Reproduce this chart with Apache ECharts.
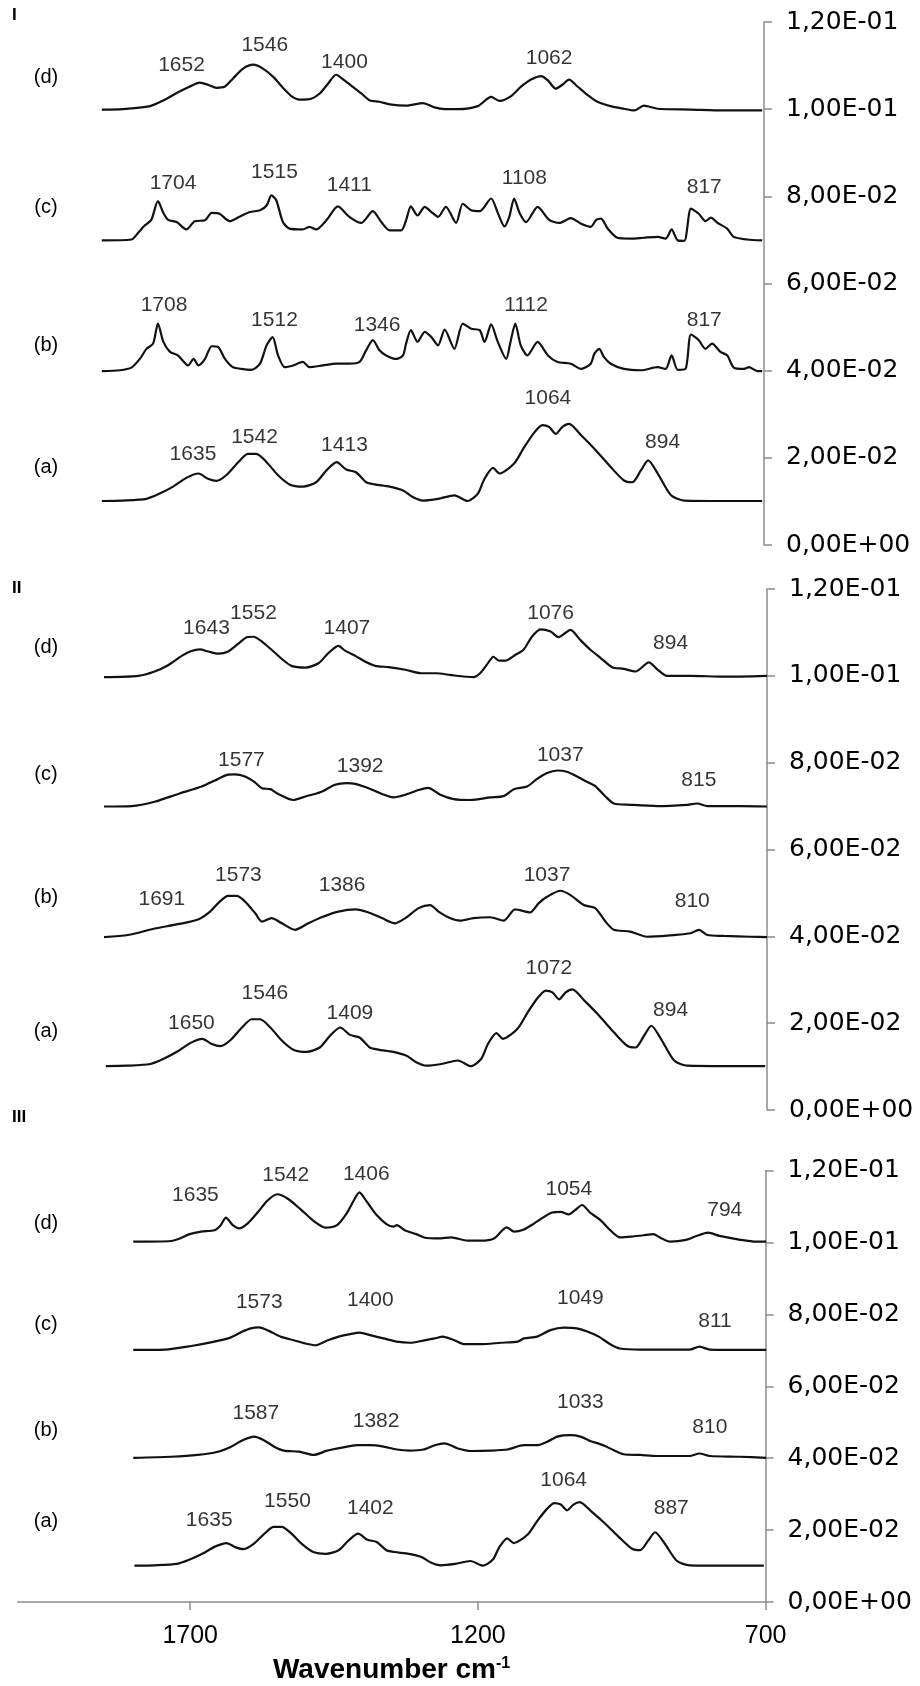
<!DOCTYPE html>
<html>
<head>
<meta charset="utf-8">
<script src="https://cdn.jsdelivr.net/npm/echarts@6/dist/echarts.min.js"></script>
<style>
html,body{margin:0;padding:0;background:#fff;}
#chart{width:920px;height:1686px;}
</style>
</head>
<body>
<div id="chart"></div>
<script>
// ---- data: [wavenumber, absorbance] ----
const specA = [[1797,0.0101],[1762,0.0102],[1723,0.0106],[1701,0.0118],[1679,0.0134],[1657,0.0154],[1637,0.0164],[1621,0.0152],[1607,0.0147],[1591,0.0160],[1571,0.0190],[1555,0.0209],[1541,0.0209],[1524,0.0190],[1505,0.0160],[1486,0.0139],[1464,0.0134],[1442,0.0144],[1425,0.0171],[1408,0.0190],[1392,0.0173],[1376,0.0167],[1359,0.0144],[1345,0.0139],[1320,0.0134],[1298,0.0125],[1282,0.0110],[1265,0.0102],[1240,0.0106],[1213,0.0114],[1191,0.0101],[1174,0.0118],[1163,0.0152],[1149,0.0177],[1138,0.0164],[1114,0.0187],[1097,0.0225],[1080,0.0259],[1067,0.0275],[1056,0.0271],[1045,0.0255],[1034,0.0271],[1023,0.0278],[1003,0.0252],[981,0.0221],[954,0.0179],[932,0.0148],[918,0.0144],[904,0.0171],[892,0.0194],[876,0.0164],[854,0.0114],[832,0.0102],[766,0.0101],[703,0.0101]];

const specIb = [[1797,0.0399],[1767,0.0401],[1748,0.0407],[1734,0.0427],[1723,0.0450],[1712,0.0462],[1704,0.0508],[1695,0.0466],[1684,0.0443],[1671,0.0435],[1654,0.0412],[1645,0.0427],[1637,0.0412],[1626,0.0427],[1615,0.0456],[1604,0.0454],[1593,0.0427],[1580,0.0408],[1566,0.0404],[1549,0.0402],[1535,0.0416],[1524,0.0458],[1514,0.0477],[1505,0.0435],[1494,0.0408],[1480,0.0412],[1464,0.0420],[1453,0.0408],[1431,0.0412],[1409,0.0416],[1387,0.0416],[1370,0.0420],[1359,0.0447],[1348,0.0470],[1337,0.0447],[1326,0.0435],[1309,0.0427],[1298,0.0435],[1293,0.0462],[1285,0.0493],[1274,0.0466],[1262,0.0489],[1251,0.0477],[1240,0.0458],[1229,0.0494],[1213,0.0450],[1199,0.0508],[1185,0.0496],[1171,0.0493],[1163,0.0466],[1152,0.0506],[1141,0.0466],[1127,0.0427],[1120,0.0466],[1112,0.0508],[1103,0.0458],[1092,0.0435],[1075,0.0466],[1058,0.0435],[1042,0.0420],[1020,0.0416],[1003,0.0404],[987,0.0416],[981,0.0439],[973,0.0450],[965,0.0431],[954,0.0416],[932,0.0404],[904,0.0401],[876,0.0408],[863,0.0404],[853,0.0435],[843,0.0402],[830,0.0404],[821,0.0483],[808,0.0470],[797,0.0450],[786,0.0462],[772,0.0443],[761,0.0435],[750,0.0407],[733,0.0404],[725,0.0408],[711,0.0399],[703,0.0399]];

const specIc = [[1797,0.0699],[1748,0.0701],[1737,0.0716],[1726,0.0733],[1715,0.0746],[1704,0.0789],[1695,0.0762],[1687,0.0746],[1673,0.0741],[1657,0.0724],[1643,0.0743],[1626,0.0745],[1615,0.0762],[1602,0.0760],[1585,0.0743],[1569,0.0753],[1552,0.0764],[1535,0.0768],[1524,0.0779],[1516,0.0802],[1508,0.0791],[1497,0.0741],[1486,0.0726],[1464,0.0724],[1453,0.0730],[1442,0.0724],[1425,0.0745],[1406,0.0777],[1387,0.0753],[1367,0.0739],[1348,0.0766],[1334,0.0741],[1320,0.0722],[1301,0.0722],[1293,0.0745],[1285,0.0777],[1274,0.0756],[1262,0.0776],[1251,0.0764],[1240,0.0753],[1227,0.0776],[1210,0.0739],[1199,0.0783],[1185,0.0768],[1171,0.0766],[1152,0.0795],[1141,0.0762],[1130,0.0731],[1122,0.0753],[1114,0.0795],[1105,0.0762],[1094,0.0741],[1075,0.0776],[1056,0.0746],[1039,0.0739],[1020,0.0750],[1003,0.0737],[987,0.0730],[978,0.0746],[970,0.0749],[959,0.0726],[943,0.0705],[921,0.0703],[899,0.0705],[876,0.0707],[863,0.0703],[853,0.0724],[843,0.0699],[832,0.0698],[821,0.0772],[808,0.0760],[797,0.0743],[788,0.0751],[777,0.0739],[761,0.0726],[750,0.0707],[728,0.0701],[703,0.0699]];

const specId = [[1797,0.0999],[1762,0.1000],[1717,0.1007],[1695,0.1020],[1673,0.1037],[1651,0.1052],[1635,0.1061],[1621,0.1056],[1607,0.1049],[1593,0.1052],[1580,0.1070],[1563,0.1093],[1546,0.1102],[1530,0.1093],[1513,0.1074],[1497,0.1049],[1483,0.1030],[1469,0.1022],[1453,0.1023],[1436,0.1036],[1422,0.1059],[1409,0.1079],[1395,0.1066],[1381,0.1051],[1367,0.1036],[1353,0.1020],[1337,0.1017],[1320,0.1011],[1293,0.1008],[1265,0.1014],[1246,0.1004],[1229,0.1000],[1207,0.1000],[1174,0.1007],[1152,0.1028],[1138,0.1019],[1119,0.1030],[1103,0.1051],[1086,0.1068],[1069,0.1076],[1058,0.1066],[1045,0.1047],[1034,0.1056],[1023,0.1068],[1009,0.1052],[992,0.1032],[976,0.1017],[954,0.1007],[932,0.1001],[915,0.0997],[899,0.1008],[876,0.1001],[821,0.0999],[766,0.0997],[703,0.0997]];

const specIIb = [[1800,0.0398],[1760,0.0403],[1716,0.0418],[1677,0.0428],[1644,0.0439],[1624,0.0457],[1608,0.0480],[1594,0.0493],[1580,0.0493],[1566,0.0480],[1549,0.0453],[1538,0.0434],[1522,0.0442],[1505,0.0430],[1483,0.0415],[1461,0.0430],[1439,0.0444],[1411,0.0457],[1383,0.0462],[1361,0.0455],[1339,0.0442],[1317,0.0430],[1300,0.0442],[1278,0.0465],[1259,0.0472],[1245,0.0457],[1226,0.0442],[1209,0.0436],[1187,0.0442],[1159,0.0444],[1137,0.0436],[1118,0.0462],[1093,0.0455],[1079,0.0476],[1065,0.0491],[1043,0.0505],[1026,0.0495],[1004,0.0472],[985,0.0465],[968,0.0434],[954,0.0415],[927,0.0411],[899,0.0399],[855,0.0403],[827,0.0407],[813,0.0415],[799,0.0403],[772,0.0401],[727,0.0399],[700,0.0398]];

const specIIc = [[1800,0.0699],[1754,0.0700],[1716,0.0710],[1677,0.0728],[1638,0.0745],[1616,0.0759],[1596,0.0772],[1583,0.0773],[1566,0.0768],[1549,0.0754],[1538,0.0741],[1524,0.0739],[1511,0.0728],[1486,0.0714],[1466,0.0722],[1439,0.0733],[1417,0.0749],[1397,0.0753],[1383,0.0751],[1361,0.0741],[1339,0.0728],[1320,0.0720],[1300,0.0726],[1278,0.0737],[1262,0.0742],[1242,0.0726],[1220,0.0716],[1192,0.0714],[1159,0.0720],[1137,0.0723],[1120,0.0739],[1098,0.0745],[1082,0.0762],[1065,0.0776],[1048,0.0782],[1032,0.0779],[1015,0.0768],[999,0.0756],[985,0.0746],[968,0.0722],[954,0.0706],[927,0.0703],[882,0.0700],[832,0.0703],[816,0.0706],[799,0.0700],[744,0.0700],[700,0.0699]];

const specIId = [[1800,0.0997],[1743,0.1000],[1716,0.1010],[1693,0.1025],[1671,0.1046],[1655,0.1057],[1641,0.1061],[1627,0.1056],[1610,0.1051],[1594,0.1056],[1577,0.1074],[1563,0.1089],[1552,0.1090],[1538,0.1079],[1522,0.1060],[1505,0.1039],[1489,0.1023],[1466,0.1019],[1444,0.1029],[1428,0.1052],[1411,0.1069],[1400,0.1058],[1383,0.1046],[1367,0.1033],[1350,0.1023],[1328,0.1020],[1300,0.1014],[1273,0.1006],[1248,0.1006],[1226,0.1002],[1187,0.0997],[1176,0.1006],[1162,0.1031],[1154,0.1044],[1145,0.1035],[1134,0.1035],[1118,0.1048],[1104,0.1060],[1090,0.1090],[1076,0.1107],[1059,0.1102],[1046,0.1089],[1026,0.1106],[1010,0.1083],[993,0.1060],[976,0.1041],[957,0.1020],[938,0.1016],[918,0.1010],[896,0.1031],[882,0.1015],[866,0.1000],[827,0.1000],[772,0.0998],[700,0.1000]];

const specIIIb = [[1799,0.0401],[1733,0.0404],[1687,0.0409],[1652,0.0418],[1629,0.0432],[1609,0.0450],[1589,0.0460],[1572,0.0450],[1554,0.0432],[1537,0.0421],[1511,0.0418],[1485,0.0409],[1462,0.0421],[1434,0.0430],[1410,0.0436],[1387,0.0436],[1364,0.0432],[1341,0.0424],[1318,0.0421],[1295,0.0424],[1275,0.0436],[1258,0.0441],[1235,0.0427],[1212,0.0420],[1177,0.0421],[1149,0.0424],[1120,0.0436],[1097,0.0436],[1079,0.0446],[1062,0.0460],[1039,0.0464],[1022,0.0460],[1005,0.0448],[982,0.0436],[964,0.0422],[947,0.0411],[918,0.0409],[889,0.0406],[855,0.0406],[832,0.0406],[815,0.0413],[797,0.0406],[746,0.0404],[699,0.0401]];

const specIIIc = [[1799,0.0701],[1744,0.0702],[1698,0.0712],[1658,0.0724],[1629,0.0736],[1609,0.0752],[1595,0.0761],[1580,0.0764],[1563,0.0754],[1543,0.0738],[1520,0.0728],[1500,0.0719],[1482,0.0714],[1462,0.0727],[1442,0.0738],[1422,0.0745],[1405,0.0749],[1387,0.0742],[1364,0.0733],[1341,0.0724],[1318,0.0721],[1295,0.0727],[1275,0.0733],[1261,0.0738],[1241,0.0728],[1223,0.0717],[1195,0.0717],[1160,0.0721],[1131,0.0724],[1120,0.0733],[1097,0.0738],[1074,0.0756],[1051,0.0763],[1028,0.0761],[1010,0.0752],[990,0.0738],[970,0.0717],[953,0.0705],[918,0.0702],[878,0.0702],[832,0.0702],[815,0.0710],[797,0.0702],[746,0.0701],[699,0.0701]];

const specIIId = [[1799,0.1002],[1733,0.1004],[1718,0.1011],[1701,0.1023],[1681,0.1030],[1658,0.1034],[1647,0.1048],[1638,0.1069],[1626,0.1048],[1615,0.1039],[1600,0.1053],[1583,0.1083],[1566,0.1116],[1549,0.1134],[1531,0.1122],[1508,0.1092],[1485,0.1059],[1465,0.1041],[1445,0.1048],[1428,0.1081],[1416,0.1116],[1406,0.1139],[1393,0.1113],[1376,0.1076],[1359,0.1051],[1347,0.1044],[1341,0.1048],[1327,0.1034],[1307,0.1023],[1292,0.1013],[1269,0.1011],[1246,0.1014],[1218,0.1005],[1195,0.1005],[1172,0.1011],[1150,0.1042],[1137,0.1030],[1120,0.1036],[1102,0.1053],[1085,0.1071],[1071,0.1083],[1056,0.1085],[1042,0.1078],[1031,0.1090],[1019,0.1104],[1005,0.1083],[987,0.1062],[970,0.1034],[953,0.1014],[933,0.1016],[912,0.1020],[895,0.1023],[884,0.1014],[866,0.1002],[838,0.1007],[820,0.1018],[800,0.1027],[780,0.1018],[746,0.1008],[717,0.1002],[699,0.1002]];

// peak annotations: [wavenumber, absorbance, text]
const peaksI = [[1665,0.1101,'1652'],[1527,0.1147,'1546'],[1395,0.1108,'1400'],[1056,0.1116,'1062'],
  [1679,0.0829,'1704'],[1511,0.0856,'1515'],[1387,0.0825,'1411'],[1097,0.0841,'1108'],[799,0.0821,'817'],
  [1694,0.0550,'1708'],[1511,0.0515,'1512'],[1341,0.0504,'1346'],[1094,0.0550,'1112'],[799,0.0515,'817'],
  [1646,0.0209,'1635'],[1544,0.0248,'1542'],[1395,0.0229,'1413'],[1058,0.0336,'1064'],[868,0.0236,'894']];
const peaksII = [[1630,0.1110,'1643'],[1552,0.1144,'1552'],[1397,0.1110,'1407'],[1059,0.1144,'1076'],[860,0.1075,'894'],
  [1572,0.0806,'1577'],[1375,0.0793,'1392'],[1043,0.0818,'1037'],[813,0.0760,'815'],
  [1704,0.0485,'1691'],[1577,0.0541,'1573'],[1405,0.0518,'1386'],[1065,0.0541,'1037'],[824,0.0480,'810'],
  [1655,0.0200,'1650'],[1533,0.0269,'1546'],[1392,0.0223,'1409'],[1062,0.0326,'1072'],[860,0.0230,'894']];
const peaksIII = [[1691,0.1132,'1635'],[1534,0.1187,'1542'],[1394,0.1190,'1406'],[1042,0.1147,'1054'],[771,0.1090,'794'],
  [1580,0.0835,'1573'],[1387,0.0840,'1400'],[1022,0.0844,'1049'],[788,0.0782,'811'],
  [1586,0.0524,'1587'],[1377,0.0504,'1382'],[1022,0.0557,'1033'],[797,0.0487,'810'],
  [1667,0.0228,'1635'],[1531,0.0279,'1550'],[1387,0.0260,'1402'],[1051,0.0339,'1064'],[864,0.0260,'887']];

const xTicks = [700, 1200, 1700];
const panelNames = ['I', 'II', 'III'];
const traceNames = ['(a)', '(b)', '(c)', '(d)'];
const panels = [
  [specA, specIb, specIc, specId],
  [specA, specIIb, specIIc, specIId],
  [specA, specIIIb, specIIIc, specIIId]
];
const panelPeaks = [peaksI, peaksII, peaksIII];

// ---- layout ----
const FONT = '"Liberation Sans", Arial, sans-serif';
const YFONT = '"DejaVu Sans", "Liberation Sans", sans-serif';
const grids = [
  {left: 100, top: 22, width: 664, height: 523},
  {left: 104, top: 589, width: 663, height: 521},
  {left: 17.6, top: 1170.5, width: 748, height: 431.5}
];
const letterY = [[467, 345, 207, 77], [1031, 897, 774, 647], [1521, 1430, 1324, 1223]];
const panelTitleY = [16, 589, 1118];

function sci(v) {
  if (Math.abs(v) < 1e-12) return '0,00E+00';
  const parts = v.toExponential(2).split('e');
  const n = parseInt(parts[1], 10);
  return parts[0].replace('.', ',') + 'E' + (n < 0 ? '-' : '+') + String(Math.abs(n)).padStart(2, '0');
}

const axisGray = '#8c8c8c';
const xAxes = [0, 1, 2].map(i => {
  const base = {type: 'value', gridIndex: i, inverse: true, min: 700, max: i < 2 ? 1800 : 2000};
  if (i < 2) return Object.assign(base, {show: false});
  return Object.assign(base, {
    interval: 500,
    axisLine: {show: true, lineStyle: {color: axisGray, width: 1.5}},
    axisTick: {show: true, inside: false, length: 8, customValues: xTicks, lineStyle: {color: axisGray, width: 1.5}},
    axisLabel: {show: true, customValues: xTicks, margin: 22, fontSize: 25, color: '#000', fontFamily: FONT,
      formatter: v => String(Math.round(v))},
    splitLine: {show: false},
    name: '{a|Wavenumber cm}{b|-1}',
    nameLocation: 'middle',
    nameGap: 54,
    nameTextStyle: {
      rich: {
        a: {fontSize: 28, fontWeight: 'bold', color: '#000', fontFamily: FONT},
        b: {fontSize: 16, fontWeight: 'bold', color: '#000', fontFamily: FONT, padding: [0, 0, 13, 0]}
      }
    }
  });
});
const yAxes = [0, 1, 2].map(i => ({
  type: 'value', gridIndex: i, position: 'right', min: 0, max: 0.12, interval: 0.02,
  axisLine: {show: true, lineStyle: {color: axisGray, width: 1.5}},
  axisTick: {show: true, inside: false, length: 8, lineStyle: {color: axisGray, width: 1.5}},
  axisLabel: {show: true, margin: 22, fontSize: 25, color: '#000', fontFamily: YFONT, formatter: sci},
  splitLine: {show: false}
}));

const series = [];
panels.forEach((list, p) => {
  list.forEach((d, k) => {
    series.push({
      type: 'line', name: panelNames[p] + traceNames[k], xAxisIndex: p, yAxisIndex: p,
      data: d, showSymbol: false, smooth: 0.25, silent: true,
      lineStyle: {color: '#111', width: 2.2}
    });
  });
  series.push({
    type: 'scatter', xAxisIndex: p, yAxisIndex: p, silent: true,
    data: panelPeaks[p], symbolSize: 1, itemStyle: {color: 'rgba(0,0,0,0)'},
    label: {show: true, position: 'inside', formatter: q => q.value[2],
      fontSize: 21, color: '#000', fontFamily: FONT}
  });
});

const graphics = [];
panelNames.forEach((n, p) => {
  graphics.push({type: 'text', left: 12, top: panelTitleY[p] - 9,
    style: {text: n, fontSize: 17, fontWeight: 'bold', fill: '#000', fontFamily: FONT}});
  traceNames.forEach((t, k) => {
    graphics.push({type: 'text', x: 46, y: letterY[p][k],
      style: {text: t, fontSize: 20, fill: '#000', fontFamily: FONT, align: 'center', verticalAlign: 'middle'}});
  });
});

const chart = echarts.init(document.getElementById('chart'), null, {renderer: 'canvas'});
chart.setOption({
  animation: false,
  backgroundColor: '#fff',
  grid: grids.map(g => Object.assign({outerBoundsMode: 'none', containLabel: false}, g)),
  xAxis: xAxes,
  yAxis: yAxes,
  series: series,
  graphic: graphics
});
</script>
</body>
</html>
